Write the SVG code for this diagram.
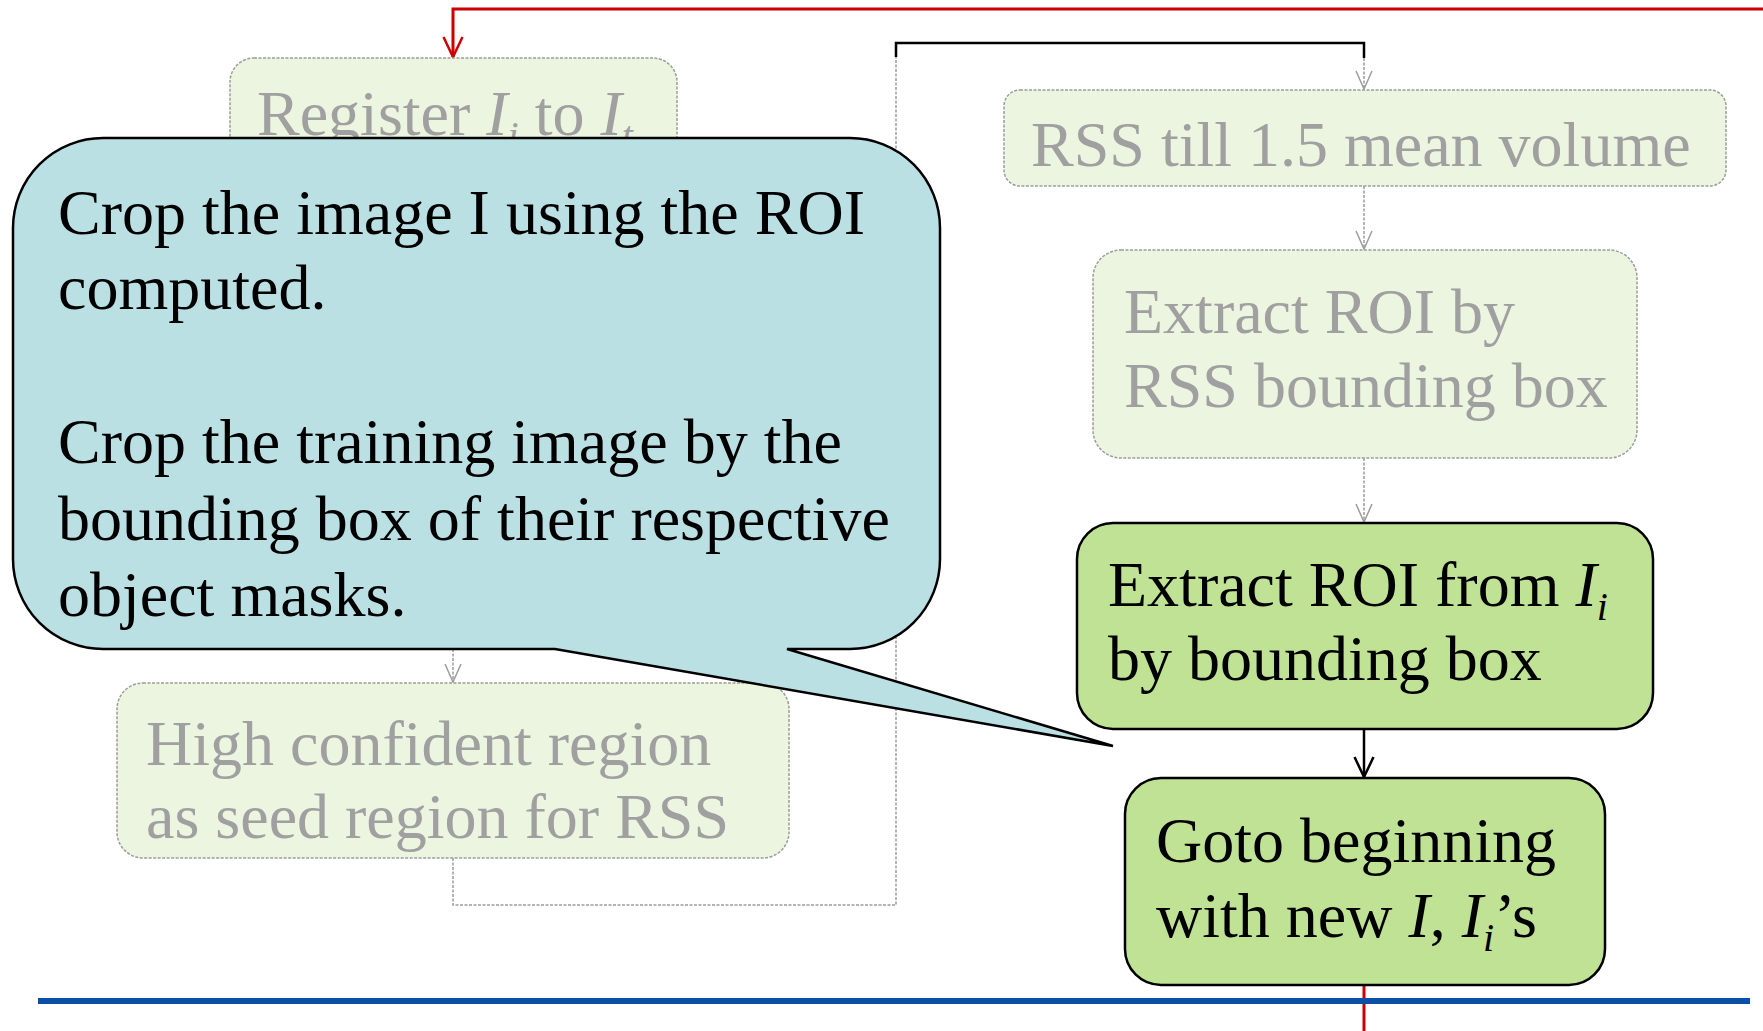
<svg xmlns="http://www.w3.org/2000/svg" width="1763" height="1031" viewBox="0 0 1763 1031">
  <style>
    .serif { font-family: "Liberation Serif", "Times New Roman", serif; font-size: 64px; }
    .faded-box { fill: #ebf5e0; stroke: #9c9c9c; stroke-width: 1.5; stroke-dasharray: 3 1.5; }
    .faded-txt { fill: #a0a0a0; }
    .solid-box { fill: #bfe294; stroke: #000; stroke-width: 2.5; }
    .solid-txt { fill: #000; }
    .faded-line { fill: none; stroke: #9c9c9c; stroke-width: 1.5; stroke-dasharray: 3 1.5; }
    .black-line { fill: none; stroke: #000; stroke-width: 2.5; }
    .red-line { fill: none; stroke: #cc0000; stroke-width: 3; }
    .sub { font-size: 40px; }
    .it { font-style: italic; }
  </style>
  <defs>
    <!-- open V arrowheads, drawn pointing along +x -->
    <marker id="arrow-gray" viewBox="0 0 20 20" refX="19" refY="10" markerWidth="20" markerHeight="20" markerUnits="userSpaceOnUse" orient="auto">
      <path d="M1 2 L19 10 L1 18" fill="none" stroke="#9c9c9c" stroke-width="1.5"/>
    </marker>
    <marker id="arrow-black" viewBox="0 0 22 22" refX="21" refY="11" markerWidth="22" markerHeight="22" markerUnits="userSpaceOnUse" orient="auto">
      <path d="M1 1.5 L21 11 L1 20.5" fill="none" stroke="#000" stroke-width="2.5"/>
    </marker>
    <marker id="arrow-red" viewBox="0 0 22 22" refX="21" refY="11" markerWidth="22" markerHeight="22" markerUnits="userSpaceOnUse" orient="auto">
      <path d="M1 1.5 L21 11 L1 20.5" fill="none" stroke="#cc0000" stroke-width="2.5"/>
    </marker>
  </defs>

  <rect width="1763" height="1031" fill="#ffffff"/>

  <!-- connectors -->
  <g id="connectors">
    <!-- loop back from the seed region to the RSS step -->
    <path class="faded-line" d="M453 858 V905 H896 V57"/>
    <path class="black-line" d="M896 57 V43 H1364 V58"/>
    <path class="faded-line" d="M1364 58 V89" marker-end="url(#arrow-gray)"/>
    <path class="faded-line" d="M1364 186 V249" marker-end="url(#arrow-gray)"/>
    <path class="faded-line" d="M1364 458 V522" marker-end="url(#arrow-gray)"/>
    <path class="faded-line" d="M453 640 V682" marker-end="url(#arrow-gray)"/>
    <path class="black-line" d="M1364 729 V777" marker-end="url(#arrow-black)"/>
    <!-- red return path to the start -->
    <path class="red-line" d="M1763 9 H453 V57" marker-end="url(#arrow-red)"/>
    <path class="red-line" d="M1364 985 V1031"/>
  </g>

  <!-- separator -->
  <line x1="38" y1="1001" x2="1750" y2="1001" stroke="#0b4fa6" stroke-width="6"/>

  <!-- faded (inactive) steps -->
  <g id="register" class="serif">
    <rect class="faded-box" x="230" y="58" width="447" height="140" rx="24"/>
    <text class="faded-txt" x="257" y="135">Register <tspan class="it">I</tspan><tspan class="sub it" dy="14">i</tspan><tspan dy="-14"> to </tspan><tspan class="it">I</tspan><tspan class="sub it" dy="14">t</tspan></text>
  </g>

  <g id="rss" class="serif">
    <rect class="faded-box" x="1004" y="90" width="722" height="96" rx="16"/>
    <text class="faded-txt" x="1031" y="166">RSS till 1.5 mean volume</text>
  </g>

  <g id="extract-rss" class="serif">
    <rect class="faded-box" x="1093" y="250" width="544" height="208" rx="28"/>
    <text class="faded-txt" x="1124" y="333">Extract ROI by</text>
    <text class="faded-txt" x="1124" y="407">RSS bounding box</text>
  </g>

  <g id="seed-region" class="serif">
    <rect class="faded-box" x="117" y="683" width="672" height="175" rx="26"/>
    <text class="faded-txt" x="146" y="765">High confident region</text>
    <text class="faded-txt" x="146" y="838">as seed region for RSS</text>
  </g>

  <!-- active steps -->
  <g id="extract-roi" class="serif">
    <rect class="solid-box" x="1077" y="523" width="576" height="206" rx="36"/>
    <text class="solid-txt" x="1108" y="606">Extract ROI from <tspan class="it">I</tspan><tspan class="sub it" dy="14">i</tspan></text>
    <text class="solid-txt" x="1108" y="680">by bounding box</text>
  </g>

  <g id="goto" class="serif">
    <rect class="solid-box" x="1125" y="778" width="480" height="207" rx="36"/>
    <text class="solid-txt" x="1156" y="862">Goto beginning</text>
    <text class="solid-txt" x="1156" y="937">with new <tspan class="it">I</tspan>, <tspan class="it">I</tspan><tspan class="sub it" dy="14">i</tspan><tspan dy="-14">’s</tspan></text>
  </g>

  <!-- speech callout -->
  <g id="callout" class="serif">
    <path d="M103 138 H850 A90 90 0 0 1 940 228 V559 A90 90 0 0 1 850 649 H787 L1113 746 L555 649 H103 A90 90 0 0 1 13 559 V228 A90 90 0 0 1 103 138 Z" fill="#bae0e3" stroke="#000" stroke-width="2.5" stroke-linejoin="miter"/>
    <text class="solid-txt" x="58" y="234">Crop the image I using the ROI</text>
    <text class="solid-txt" x="58" y="309">computed.</text>
    <text class="solid-txt" x="58" y="463">Crop the training image by the</text>
    <text class="solid-txt" x="58" y="540">bounding box of their respective</text>
    <text class="solid-txt" x="58" y="616">object masks.</text>
  </g>
</svg>
